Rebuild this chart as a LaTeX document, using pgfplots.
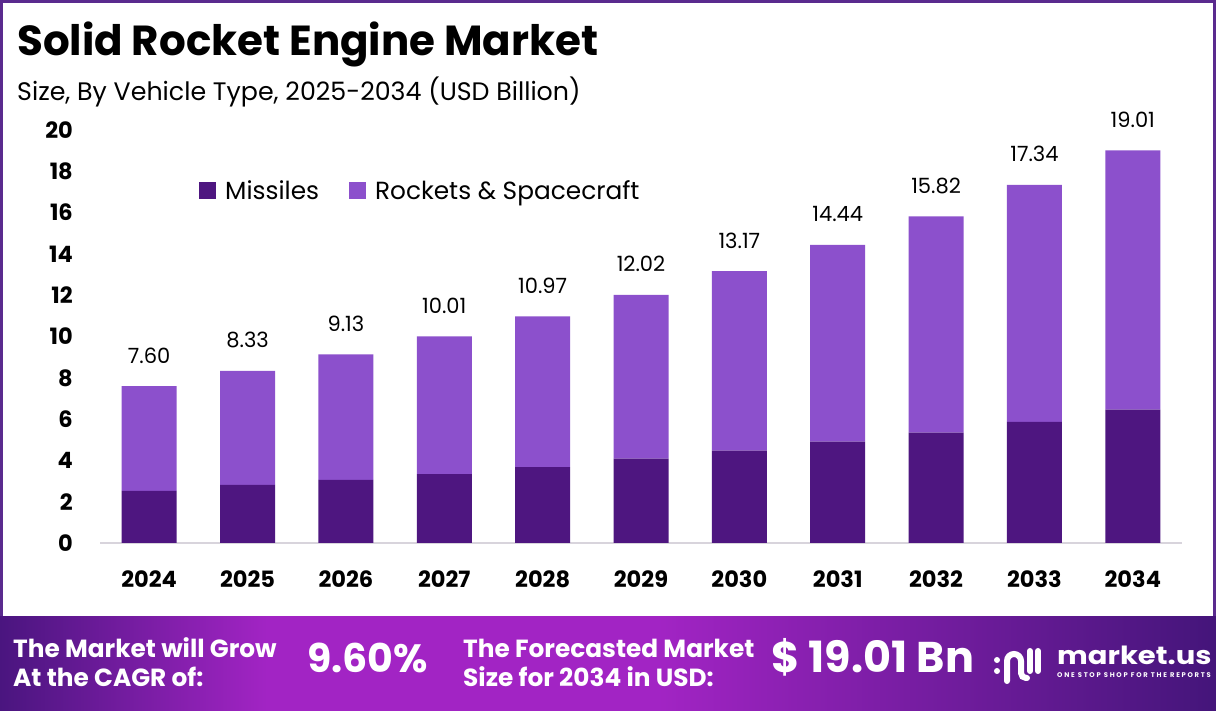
\documentclass[border=0pt]{standalone}
\usepackage{pgfplots}
\pgfplotsset{compat=1.18}
\usepackage{pgfplotstable}
\usepackage{fontspec}
\setmainfont{Poppins}
\definecolor{missc}{HTML}{4E1680}
\definecolor{rockc}{HTML}{8C50CC}
\definecolor{framec}{HTML}{5A2A8E}
\definecolor{axisc}{HTML}{D8D4DC}
\definecolor{bdark}{HTML}{4A157F}
\definecolor{bbright}{HTML}{A224C4}
\definecolor{bdark2}{HTML}{44157A}
\pgfdeclarehorizontalshading{banner}{100bp}{color(0bp)=(bdark); color(25bp)=(bdark); color(36bp)=(bbright); color(52bp)=(bbright); color(75bp)=(bdark2); color(100bp)=(bdark2)}
\pgfplotstableread{
x m r t
0 2.52 5.08 7.60
1 2.82 5.51 8.33
2 3.06 6.07 9.13
3 3.34 6.67 10.01
4 3.68 7.29 10.97
5 4.08 7.94 12.02
6 4.47 8.70 13.17
7 4.91 9.53 14.44
8 5.34 10.48 15.82
9 5.87 11.47 17.34
10 6.46 12.55 19.01
}\datatable
\pgfplotsset{
  common/.style={
    at={(100pt,168pt)}, anchor=south west,
    scale only axis, width=1082pt, height=413pt,
    xmin=-0.5, xmax=10.5, ymin=0, ymax=20,
    enlargelimits=false, clip=false,
  }
}
\begin{document}
\begin{tikzpicture}[x=1pt,y=1pt]
\useasboundingbox (0,0) rectangle (1216,711);
\fill[white] (0,0) rectangle (1216,711);
\begin{axis}[
  common,
  ybar stacked, bar width=55pt,
  axis lines*=left,
  x axis line style={draw=axisc, line width=2pt},
  y axis line style={draw=none},
  major tick length=0pt,
  xtick={0,...,10},
  xticklabels={2024,2025,2026,2027,2028,2029,2030,2031,2032,2033,2034},
  ytick={0,2,...,20},
  /pgf/number format/assume math mode=true,
  xticklabel style={font=\fontsize{22.5}{22.5}\selectfont\bfseries, anchor=base, inner sep=0pt, yshift=-45pt},
  yticklabel style={font=\fontsize{22.5}{22.5}\selectfont\bfseries, anchor=east, inner sep=0pt, xshift=-27pt},
  legend image code/.code={\fill[#1] (0pt,-8.5pt) rectangle (17pt,8.5pt);},
  legend style={at={(rel axis cs:0.0915,0.8535)}, anchor=west, draw=none, fill=none,
    inner sep=0pt, legend columns=2,
    font=\fontsize{24.8}{24.8}\selectfont,
    nodes={inner sep=0pt},
    /tikz/every odd column/.append style={column sep=9pt},
    /tikz/every even column/.append style={column sep=30pt}},
  legend cell align=left,
]
\addplot[fill=missc, draw=none] table[x=x, y=m] {\datatable};
\addplot[fill=rockc, draw=none] table[x=x, y=r] {\datatable};
\legend{Missiles, Rockets \& Spacecraft}
\end{axis}
% totals above the bars (overlay axis, same geometry)
\begin{axis}[common, hide axis]
\addplot[draw=none, mark=none,
  nodes near coords={\pgfmathprintnumber[fixed,fixed zerofill,precision=2,assume math mode=true]{\pgfplotspointmeta}},
  every node near coord/.append style={anchor=base, yshift=23pt, inner sep=0pt, text=black, font=\fontsize{21}{21}\selectfont}
  ] table[x=x, y=t] {\datatable};
\end{axis}
% title
\node[anchor=base west, inner sep=0pt, font=\fontsize{42}{42}\selectfont\bfseries] at (17,655) {Solid Rocket Engine Market};
\node[anchor=base west, inner sep=0pt, font=\fontsize{25.3}{25.3}\selectfont] at (17,610) {Size, By Vehicle Type, 2025-2034 (USD Billion)};
% frame
\fill[framec] (0,708) rectangle (1216,711);
\fill[framec] (0,94) rectangle (3,711);
\fill[framec] (1213,94) rectangle (1216,711);
% banner
\shade[shading=banner] (0,0) rectangle (1216,94);
\begin{scope}[every node/.style={anchor=base west, inner sep=0pt, text=white, font=\fontsize{24.8}{24.8}\selectfont\bfseries}]
\node at (13,53) {The Market will Grow};
\node at (13,24) {At the CAGR of:};
\node[font=\fontsize{39.5}{39.5}\selectfont\bfseries] at (307,38) {9.60\%};
\node at (463,53) {The Forecasted Market};
\node at (463,24) {Size for 2034 in USD:};
\node[font=\fontsize{43}{43}\selectfont\bfseries] at (771,38) {\$ 19.01 Bn};
\node[font=\fontsize{25}{25}\selectfont\bfseries, xscale=1.16] at (1057,46) {market.us};
\node[font=\fontsize{6.8}{6.8}\selectfont\bfseries\addfontfeature{LetterSpace=25}] at (1057,33.5) {ONE STOP SHOP FOR THE REPORTS};
\end{scope}
% logo icon
\fill[white] (997,51) circle (3);
\fill[white] (997,40) circle (3);
\draw[white, line width=6pt, line cap=round] (1007,30) -- (1007,50) arc (180:0:7) -- (1021,38) arc (180:270:5) -- (1027,33);
\draw[white, line width=6pt, line cap=round] (1030,60) -- (1030,40);
\draw[white, line width=6pt, line cap=round] (1038,60) -- (1038,40);
\end{tikzpicture}
\end{document}
